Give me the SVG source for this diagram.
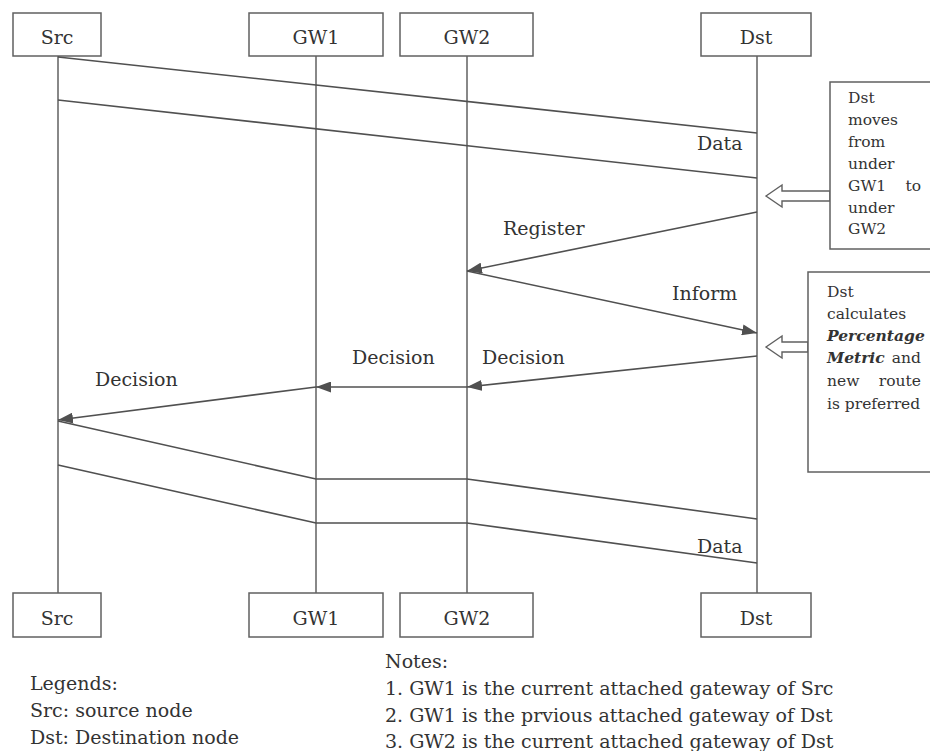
<svg xmlns="http://www.w3.org/2000/svg" width="930" height="751" viewBox="0 0 930 751">
  <style>
    .box { fill: #fff; stroke: #606060; stroke-width: 1.5; }
    .life { stroke: #606060; stroke-width: 1.5; fill: none; }
    .msg { stroke: #505050; stroke-width: 1.6; fill: none; }
    .lbl { font-family: "DejaVu Serif", "Liberation Serif", serif; font-size: 19px; fill: #333; }
    .name { font-family: "DejaVu Serif", "Liberation Serif", serif; font-size: 19px; fill: #333; text-anchor: middle; }
    .note { font-family: "DejaVu Serif", "Liberation Serif", serif; font-size: 15.5px; fill: #333; }
    .hollow { fill: #fff; stroke: #606060; stroke-width: 1.4; }
  </style>
  <defs>
    <marker id="head" viewBox="0 0 15 11" refX="15" refY="5.5" markerWidth="15" markerHeight="11" markerUnits="userSpaceOnUse" orient="auto">
      <path d="M0,0 L15,5.5 L0,11 Z" fill="#505050"/>
    </marker>
  </defs>

  <!-- lifelines -->
  <g id="lifelines">
    <line class="life" x1="58" y1="56" x2="58" y2="593"/>
    <line class="life" x1="316" y1="56" x2="316" y2="593"/>
    <line class="life" x1="467" y1="56" x2="467" y2="593"/>
    <line class="life" x1="757" y1="56" x2="757" y2="593"/>
  </g>

  <!-- participants, top row -->
  <g id="src-top"><rect class="box" x="13" y="13" width="88" height="43"/><text class="name" x="57" y="44">Src</text></g>
  <g id="gw1-top"><rect class="box" x="249" y="13" width="134" height="43"/><text class="name" x="316" y="44">GW1</text></g>
  <g id="gw2-top"><rect class="box" x="400" y="13" width="133" height="43"/><text class="name" x="467" y="44">GW2</text></g>
  <g id="dst-top"><rect class="box" x="701" y="13" width="110" height="43"/><text class="name" x="756" y="44">Dst</text></g>

  <!-- participants, bottom row -->
  <g id="src-bottom"><rect class="box" x="13" y="593" width="88" height="44"/><text class="name" x="57" y="625">Src</text></g>
  <g id="gw1-bottom"><rect class="box" x="249" y="593" width="134" height="44"/><text class="name" x="316" y="625">GW1</text></g>
  <g id="gw2-bottom"><rect class="box" x="400" y="593" width="133" height="44"/><text class="name" x="467" y="625">GW2</text></g>
  <g id="dst-bottom"><rect class="box" x="701" y="593" width="110" height="44"/><text class="name" x="756" y="625">Dst</text></g>

  <!-- messages -->
  <g id="connectors">
    <line class="msg" x1="58" y1="57" x2="757" y2="133"/>
    <line class="msg" x1="58" y1="100" x2="757" y2="178"/>
    <line class="msg" x1="757" y1="212" x2="467" y2="271" marker-end="url(#head)"/>
    <line class="msg" x1="467" y1="271" x2="757" y2="333" marker-end="url(#head)"/>
    <line class="msg" x1="757" y1="356" x2="467" y2="387" marker-end="url(#head)"/>
    <line class="msg" x1="467" y1="387" x2="316" y2="387" marker-end="url(#head)"/>
    <line class="msg" x1="316" y1="387" x2="58" y2="420" marker-end="url(#head)"/>
    <polyline class="msg" points="58,421 316,479 467,479 757,519"/>
    <polyline class="msg" points="58,465 316,523 467,523 757,563"/>
    <!-- hollow block arrows from the note boxes -->
    <polygon class="hollow" points="766,196 782,185 782,191 830,191 830,201 782,201 782,207"/>
    <polygon class="hollow" points="766,347 782,336 782,342 808,342 808,352 782,352 782,358"/>
  </g>

  <!-- message labels -->
  <g id="labels">
    <text class="lbl" x="697" y="150">Data</text>
    <text class="lbl" x="503" y="235">Register</text>
    <text class="lbl" x="672" y="300">Inform</text>
    <text class="lbl" x="482" y="364">Decision</text>
    <text class="lbl" x="352" y="364">Decision</text>
    <text class="lbl" x="95" y="386">Decision</text>
    <text class="lbl" x="697" y="553">Data</text>
  </g>

  <!-- note: mobility -->
  <g id="note-move">
    <rect class="box" x="830" y="82" width="110" height="167"/>
    <text class="note" x="848" y="103">Dst</text>
    <text class="note" x="848" y="125">moves</text>
    <text class="note" x="848" y="147">from</text>
    <text class="note" x="848" y="169">under</text>
    <text class="note" x="848" y="191">GW1</text>
    <text class="note" x="921" y="191" text-anchor="end">to</text>
    <text class="note" x="848" y="213">under</text>
    <text class="note" x="848" y="234">GW2</text>
  </g>

  <!-- note: metric -->
  <g id="note-metric">
    <rect class="box" x="808" y="272" width="132" height="200"/>
    <text class="note" x="827" y="297">Dst</text>
    <text class="note" x="827" y="319">calculates</text>
    <text class="note" x="827" y="341" font-style="italic" font-weight="bold">Percentage</text>
    <text class="note" x="827" y="363" font-style="italic" font-weight="bold">Metric</text>
    <text class="note" x="921" y="363" text-anchor="end">and</text>
    <text class="note" x="827" y="386">new</text>
    <text class="note" x="921" y="386" text-anchor="end">route</text>
    <text class="note" x="827" y="409">is preferred</text>
  </g>

  <!-- legend -->
  <g id="legend">
    <text class="lbl" x="30" y="690">Legends:</text>
    <text class="lbl" x="30" y="717">Src: source node</text>
    <text class="lbl" x="30" y="744">Dst: Destination node</text>
  </g>

  <!-- notes -->
  <g id="notes">
    <text class="lbl" x="385" y="668">Notes:</text>
    <text class="lbl" x="385" y="695">1. GW1 is the current attached gateway of Src</text>
    <text class="lbl" x="385" y="722">2. GW1 is the prvious attached gateway of Dst</text>
    <text class="lbl" x="385" y="748">3. GW2 is the current attached gateway of Dst</text>
  </g>
</svg>
